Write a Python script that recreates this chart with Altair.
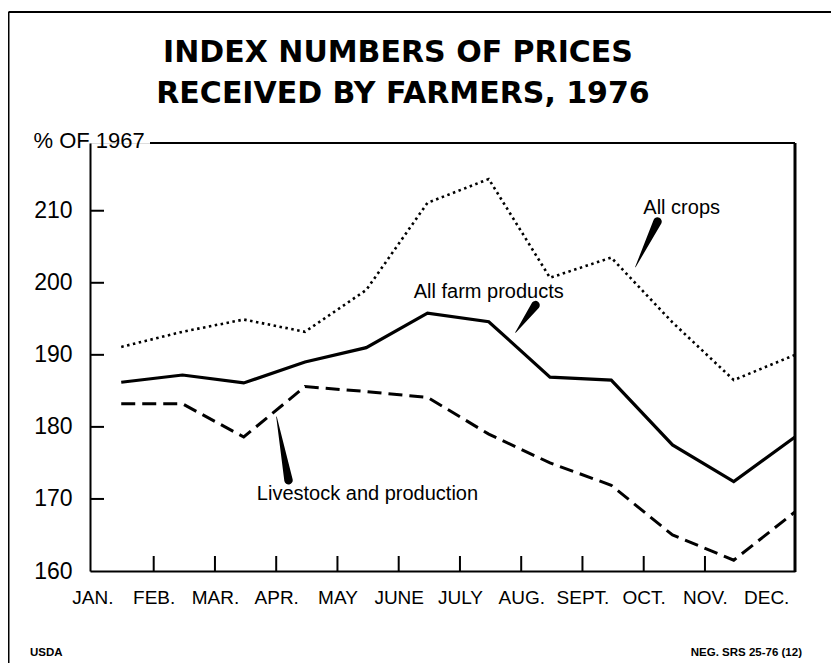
import json
import altair as alt
import pandas as pd

# ---------------- data ----------------
months = ["JAN.", "FEB.", "MAR.", "APR.", "MAY", "JUNE", "JULY", "AUG.", "SEPT.", "OCT.", "NOV.", "DEC."]
month_index = list(range(12))
all_crops = [191.1, 193.2, 194.9, 193.2, 199.0, 211.1, 214.4, 200.7, 203.5, 194.5, 186.5, 190.0]
all_farm = [186.2, 187.2, 186.1, 189.0, 191.0, 195.8, 194.6, 186.9, 186.5, 177.5, 172.4, 178.6]
livestock = [183.2, 183.2, 178.6, 185.6, 184.9, 184.1, 179.0, 175.0, 171.9, 165.0, 161.5, 168.2]
DATA_OFFSET = 0.47  # monthly values are drawn mid-month, labels sit at month start

y_label_values = [160, 170, 180, 190, 200, 210]
y_tick_values = [170, 180, 190, 200, 210]
x_tick_months = [1, 2, 3, 4, 5, 6, 7, 8, 9, 10]

ann_text = ["All crops", "All farm products", "Livestock and production"]
ann_x = [9.62, 6.47, 4.49]
ann_y = [210.4, 198.75, 170.7]
# pointer wedges: wide end (near label) -> tip (at the line)
ptr_x0 = [9.225, 7.234, 3.201]
ptr_y0 = [208.5, 196.9, 172.6]
ptr_x1 = [8.866, 6.907, 3.005]
ptr_y1 = [202.2, 193.1, 181.4]

title_lines = ["INDEX NUMBERS OF PRICES", "RECEIVED BY FARMERS, 1976"]
y_title = "% OF 1967"
footer_left = "USDA"
footer_right = "NEG. SRS 25-76 (12)"

# ---------------- tables ----------------
rows = []
for name, vals in [("All crops", all_crops), ("All farm products", all_farm), ("Livestock", livestock)]:
    for m, v in zip(month_index, vals):
        rows.append({"x": m + DATA_OFFSET, "y": v, "series": name})
lines_df = pd.DataFrame(rows)

ann_df = pd.DataFrame({"x": ann_x, "y": ann_y, "label": ann_text})

ptr_rows = []
for k in range(3):
    ptr_rows.append({"x": ptr_x0[k], "y": ptr_y0[k], "w": 8.5, "id": k, "o": 0})
    ptr_rows.append({"x": ptr_x1[k], "y": ptr_y1[k], "w": 0.6, "id": k, "o": 1})
ptr_df = pd.DataFrame(ptr_rows)

ytick_df = pd.DataFrame({"y": y_tick_values})
xtick_df = pd.DataFrame({"x": x_tick_months})
one = pd.DataFrame({"k": [0]})

W, H = 705, 428
TXT = "Liberation Sans"

label_expr = json.dumps(months) + "[datum.value]"

X = alt.X(
    "x:Q",
    scale=alt.Scale(domain=[-0.04, 11.47], nice=False, zero=False),
    axis=alt.Axis(
        values=month_index, labelExpr=label_expr, ticks=False, grid=False,
        domainColor="black", domainWidth=2, labelColor="black", labelFont=TXT,
        labelFontSize=19, labelPadding=17, labelFlush=False, labelOverlap=False,
        labelBound=False, title=None,
    ),
)
Y = alt.Y(
    "y:Q",
    scale=alt.Scale(domain=[160, 219.4], nice=False, zero=False),
    axis=alt.Axis(
        values=y_label_values, ticks=False, grid=False, domainColor="black",
        domainWidth=2, labelColor="black", labelFont=TXT, labelFontSize=23,
        labelPadding=18, labelOverlap=False, title=y_title, titleAngle=0,
        titleX=-57, titleY=4, titleAlign="left", titleBaseline="alphabetic",
        titleFont=TXT, titleFontSize=22, titleFontWeight="normal", titleColor="black",
    ),
)

base = alt.Chart(lines_df)
crops = base.transform_filter(alt.datum.series == "All crops").mark_line(
    color="black", strokeWidth=2.6, strokeDash=[2.5, 3.5]
).encode(x=X, y=Y)
farm = base.transform_filter(alt.datum.series == "All farm products").mark_line(
    color="black", strokeWidth=3.2
).encode(x=alt.X("x:Q"), y=alt.Y("y:Q"))
live = base.transform_filter(alt.datum.series == "Livestock").mark_line(
    color="black", strokeWidth=3, strokeDash=[14, 7]
).encode(x=alt.X("x:Q"), y=alt.Y("y:Q"))

ann = alt.Chart(ann_df).mark_text(
    font=TXT, fontSize=20, align="center", baseline="middle", color="black"
).encode(x=alt.X("x:Q"), y=alt.Y("y:Q"), text="label:N")

ptr = alt.Chart(ptr_df).mark_trail(color="black").encode(
    x=alt.X("x:Q"), y=alt.Y("y:Q"), size=alt.Size("w:Q", scale=None, legend=None),
    detail="id:N", order="o:Q",
)

yticks = alt.Chart(ytick_df).mark_rule(color="black", strokeWidth=2).encode(
    y=alt.Y("y:Q"), x=alt.value(0), x2=alt.value(14)
)
xticks = alt.Chart(xtick_df).mark_rule(color="black", strokeWidth=2).encode(
    x=alt.X("x:Q"), y=alt.value(H), y2=alt.value(H - 15)
)

right_edge = alt.Chart(one).mark_rule(color="black", strokeWidth=3).encode(
    x=alt.value(W), y=alt.value(0), y2=alt.value(H + 1)
)
top_edge = alt.Chart(one).mark_rule(color="black", strokeWidth=2).encode(
    x=alt.value(60), x2=alt.value(W), y=alt.value(0)
)
outer_left = alt.Chart(one).mark_rule(color="black", strokeWidth=2).encode(
    x=alt.value(-81.5), y=alt.value(-131), y2=alt.value(530)
)
outer_top = alt.Chart(one).mark_rule(color="black", strokeWidth=2).encode(
    x=alt.value(-81.5), x2=alt.value(760), y=alt.value(-131)
)

title1 = alt.Chart(one).mark_text(
    font="DejaVu Sans", fontSize=30, fontWeight="bold", align="center",
    baseline="alphabetic", color="black",
).encode(x=alt.value(308), y=alt.value(-81), text=alt.value(title_lines[0]))
title2 = alt.Chart(one).mark_text(
    font="DejaVu Sans", fontSize=30, fontWeight="bold", align="center",
    baseline="alphabetic", color="black",
).encode(x=alt.value(313), y=alt.value(-40), text=alt.value(title_lines[1]))

foot_l = alt.Chart(one).mark_text(
    font=TXT, fontSize=11.5, fontWeight="bold", align="left", baseline="middle", color="black"
).encode(x=alt.value(-60), y=alt.value(510), text=alt.value(footer_left))
foot_r = alt.Chart(one).mark_text(
    font=TXT, fontSize=11.5, fontWeight="bold", align="right", baseline="middle", color="black"
).encode(x=alt.value(712), y=alt.value(510), text=alt.value(footer_right))

chart = alt.layer(
    crops, farm, live, ann, ptr, yticks, xticks, right_edge, top_edge,
    outer_left, outer_top, title1, title2, foot_l, foot_r,
).properties(
    width=W,
    height=H,
    padding={"left": 82, "top": 135, "right": 36, "bottom": 92},
    autosize=alt.AutoSizeParams(type="none"),
).configure_view(stroke=None).configure(background="white")

chart.save("out.html", embed_options={"renderer": "svg", "actions": False})
